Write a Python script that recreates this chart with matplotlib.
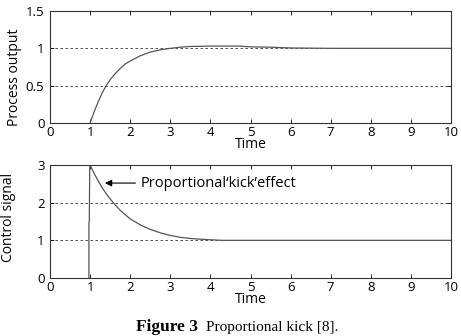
import matplotlib
matplotlib.use("Agg")
import matplotlib.pyplot as plt

# Process output
t_out = [1.0, 1.1, 1.2, 1.3, 1.4, 1.5, 1.625, 1.75, 1.875, 2.0, 2.25, 2.5, 2.75, 3.0, 3.25, 3.5, 4.0, 4.7, 5.0, 5.5, 6.0, 7.0, 8.0, 9.0, 10.0]
y_out = [0.0, 0.15, 0.28, 0.40, 0.50, 0.58, 0.66, 0.73, 0.79, 0.83, 0.90, 0.95, 0.98, 1.0, 1.015, 1.025, 1.03, 1.03, 1.02, 1.015, 1.005, 1.0, 1.0, 1.0, 1.0]

# Control signal
t_ctl = [0.97, 0.97, 0.98, 0.99, 1.0, 1.1, 1.2, 1.3, 1.4, 1.5, 1.625, 1.75, 1.875, 2.0, 2.25, 2.5, 2.75, 3.0, 3.25, 3.5, 3.75, 4.0, 4.3, 5.0, 6.0, 8.0, 10.0]
u_ctl = [0.0, 1.45, 1.5, 2.9, 3.0, 2.78, 2.58, 2.4, 2.24, 2.1, 1.94, 1.8, 1.68, 1.57, 1.41, 1.29, 1.20, 1.13, 1.08, 1.05, 1.03, 1.015, 1.0, 1.0, 1.0, 1.0, 1.0]

xticks = list(range(0, 11))
top_yticks = [0, 0.5, 1, 1.5]
top_yticklabels = ["0", "0.5", "1", "1.5"]
bot_yticks = [0, 1, 2, 3]

plt.rcParams['font.family'] = ['Open Sans', 'DejaVu Sans']
fig = plt.figure(figsize=(4.61, 3.36), dpi=100)

W, H = 461, 336
def add_ax(l, t, r, b):
    return fig.add_axes([l / W, 1 - b / H, (r - l) / W, (b - t) / H])

ax1 = add_ax(50, 11, 451, 123)
ax2 = add_ax(50, 165, 451, 278)

line_color = "#555555"
fs = 9.5
for ax in (ax1, ax2):
    ax.set_xlim(0, 10)
    ax.set_xticks(xticks)
    ax.tick_params(direction="in", top=True, right=True, labelsize=fs, length=3, width=0.6)
    ax.tick_params(axis="x", pad=2)
    ax.tick_params(axis="y", pad=4)
    for s in ax.spines.values():
        s.set_linewidth(0.8)
        s.set_color("#333333")
    ax.set_xlabel("Time", fontsize=10, labelpad=-1)

ax1.plot(t_out, y_out, color=line_color, lw=0.9)
ax1.set_ylim(0, 1.5)
ax1.set_yticks(top_yticks)
ax1.set_yticklabels(top_yticklabels)
for g in (0.5, 1.0):
    ax1.axhline(g, color="#333333", lw=0.6, ls=(0, (3, 3)), zorder=0)
ax1.set_ylabel("Process output", fontsize=10)
ax1.yaxis.set_label_coords(-0.07, 0.41)

ax2.plot(t_ctl, u_ctl, color=line_color, lw=0.9)
ax2.set_ylim(0, 3)
ax2.set_yticks(bot_yticks)
for g in (1.0, 2.0):
    ax2.axhline(g, color="#333333", lw=0.6, ls=(0, (3, 3)), zorder=0)
ax2.set_ylabel("Control signal", fontsize=10)
ax2.yaxis.set_label_coords(-0.085, 0.54)

ax2.annotate("", xy=(1.3, 2.52), xytext=(2.2, 2.52),
             arrowprops=dict(arrowstyle="-|>", color="black", lw=0.8, mutation_scale=10))
ax2.text(2.27, 2.52, "Proportional\u2018kick\u2019effect", fontsize=10.5, va="center", ha="left")

fig.text(198 / W, 1 - 327 / H, "Figure 3", ha="right", va="center", fontsize=12.5,
         family="Liberation Serif", weight="bold")
fig.text(206 / W, 1 - 327 / H, "Proportional kick [8].", ha="left", va="center", fontsize=11,
         family="Liberation Serif")

fig.savefig("out.png", dpi=100)
